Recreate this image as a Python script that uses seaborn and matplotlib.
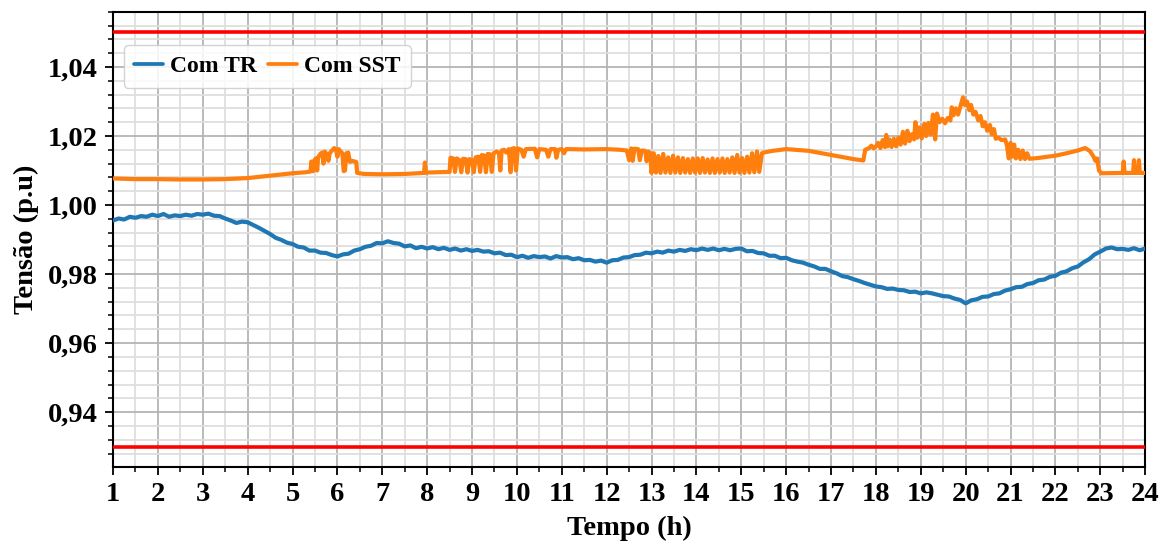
import numpy as np
import pandas as pd
import matplotlib
matplotlib.use("Agg")
import matplotlib.pyplot as plt
from matplotlib.ticker import MultipleLocator, FuncFormatter
import seaborn as sns

# Voltage profile with the conventional transformer (one value every 7.5 min)
tr_values = [
    0.9955, 0.9961, 0.9958, 0.9966, 0.9963, 0.9968, 0.9966, 0.9972,   # 1 h
    0.9968, 0.9974, 0.9966, 0.9970, 0.9968, 0.9972, 0.9969, 0.9974,   # 2 h
    0.9972, 0.9975, 0.9969, 0.9968, 0.9961, 0.9955, 0.9948, 0.9952,   # 3 h
    0.9950, 0.9942, 0.9934, 0.9925, 0.9916, 0.9905, 0.9899, 0.9891,   # 4 h
    0.9887, 0.9879, 0.9877, 0.9868, 0.9868, 0.9862, 0.9861, 0.9855,   # 5 h
    0.9851, 0.9857, 0.9859, 0.9868, 0.9872, 0.9879, 0.9882, 0.9890,   # 6 h
    0.9889, 0.9895, 0.9890, 0.9888, 0.9880, 0.9883, 0.9875, 0.9879,   # 7 h
    0.9874, 0.9878, 0.9872, 0.9876, 0.9870, 0.9874, 0.9868, 0.9872,   # 8 h
    0.9867, 0.9870, 0.9865, 0.9866, 0.9860, 0.9862, 0.9855, 0.9856,   # 9 h
    0.9849, 0.9853, 0.9847, 0.9852, 0.9849, 0.9851, 0.9845, 0.9852,   # 10 h
    0.9848, 0.9849, 0.9843, 0.9846, 0.9840, 0.9841, 0.9836, 0.9839,   # 11 h
    0.9833, 0.9840, 0.9841, 0.9848, 0.9849, 0.9855, 0.9856, 0.9862,   # 12 h
    0.9860, 0.9865, 0.9862, 0.9868, 0.9865, 0.9870, 0.9867, 0.9872,   # 13 h
    0.9869, 0.9874, 0.9870, 0.9874, 0.9869, 0.9873, 0.9869, 0.9873,   # 14 h
    0.9874, 0.9866, 0.9867, 0.9861, 0.9860, 0.9853, 0.9853, 0.9846,   # 15 h
    0.9847, 0.9840, 0.9836, 0.9833, 0.9827, 0.9822, 0.9815, 0.9815,   # 16 h
    0.9808, 0.9802, 0.9794, 0.9791, 0.9785, 0.9780, 0.9774, 0.9769,   # 17 h
    0.9764, 0.9762, 0.9757, 0.9758, 0.9754, 0.9753, 0.9748, 0.9749,   # 18 h
    0.9744, 0.9747, 0.9744, 0.9740, 0.9736, 0.9735, 0.9729, 0.9725,   # 19 h
    0.9715, 0.9724, 0.9727, 0.9734, 0.9735, 0.9742, 0.9744, 0.9752,   # 20 h
    0.9756, 0.9762, 0.9763, 0.9771, 0.9774, 0.9782, 0.9784, 0.9792,   # 21 h
    0.9795, 0.9804, 0.9808, 0.9817, 0.9822, 0.9834, 0.9843, 0.9857,   # 22 h
    0.9865, 0.9874, 0.9877, 0.9872, 0.9873, 0.9870, 0.9875, 0.9869,   # 23 h
    0.9874,                                                           # 24 h
]
tr_hours = 1 + 0.125 * np.arange(len(tr_values))

# Voltage profile with the solid-state transformer (tap switching episodes)
sst_hours = [
    1.00, 1.50, 2.00, 2.50, 3.00, 3.50, 4.00, 4.50, 5.00, 5.30,
    5.40, 5.42, 5.46, 5.48, 5.52, 5.55, 5.57, 5.62, 5.66, 5.69,
    5.72, 5.77, 5.80, 5.83, 5.88, 5.93, 5.97, 6.00, 6.03, 6.07,
    6.11, 6.14, 6.17, 6.20, 6.24, 6.28, 6.33, 6.38, 6.42, 6.44,
    6.60, 7.00, 7.50, 7.93, 7.95, 7.97, 8.50,
    8.52, 8.58, 8.62, 8.66, 8.72, 8.76, 8.80, 8.86, 8.90, 8.94,
    9.00, 9.04, 9.08, 9.14, 9.18, 9.22, 9.27, 9.31, 9.35, 9.40,
    9.44, 9.48, 9.55, 9.60, 9.63, 9.66, 9.72, 9.76, 9.82, 9.86,
    9.89, 9.94, 9.98, 10.02, 10.10, 10.15, 10.20, 10.40, 10.45, 10.50,
    10.65, 10.70, 10.75, 10.85, 10.88, 10.92, 11.00, 11.05, 11.10, 11.50,
    12.00, 12.30, 12.45, 12.50, 12.53,
    12.55, 12.58, 12.62, 12.70, 12.74, 12.78, 12.86, 12.89, 12.93, 12.97,
    13.00, 13.05, 13.10, 13.15, 13.20, 13.26, 13.31, 13.37, 13.42, 13.48,
    13.53, 13.59, 13.64, 13.70, 13.75, 13.81, 13.86, 13.92, 13.97, 14.03,
    14.08, 14.14, 14.19, 14.25, 14.30, 14.36, 14.41, 14.47, 14.52, 14.58,
    14.63, 14.69, 14.74, 14.80, 14.85, 14.91, 14.96, 15.02, 15.07, 15.13,
    15.18, 15.24, 15.29, 15.35, 15.40, 15.46, 15.50, 15.70, 16.00, 16.20,
    16.50, 16.75, 17.00, 17.25, 17.50, 17.72, 17.76,
    17.85, 17.90, 17.95, 18.00, 18.05, 18.10, 18.15, 18.20, 18.23, 18.26,
    18.30, 18.35, 18.40, 18.45, 18.50, 18.55, 18.60, 18.65, 18.70, 18.75,
    18.80, 18.85, 18.88, 18.92, 18.97, 19.02, 19.08, 19.12, 19.17, 19.22,
    19.27, 19.32, 19.36, 19.42, 19.48, 19.54, 19.60, 19.66, 19.69, 19.73,
    19.78, 19.83, 19.88, 19.94, 19.98, 20.03, 20.08, 20.12, 20.17, 20.22,
    20.28, 20.33, 20.38, 20.43, 20.48, 20.54, 20.58, 20.63, 20.67, 20.73,
    20.80, 20.88, 20.92, 20.96, 21.00, 21.04, 21.08, 21.12, 21.17, 21.22,
    21.27, 21.32, 21.37, 21.42, 21.60, 22.00, 22.25, 22.50, 22.66, 22.77,
    22.85, 22.89, 22.93, 22.97, 23.03, 23.50, 23.52, 23.54, 23.73, 23.75,
    23.77, 23.84, 23.86, 23.88, 24.00,
]
sst_values = [
    1.0077, 1.0075, 1.0075, 1.0074, 1.0074, 1.0075, 1.0078, 1.0085, 1.0092, 1.0095,
    1.0097, 1.0126, 1.0098, 1.0128, 1.0135, 1.0100, 1.0138, 1.0148, 1.0152, 1.0120,
    1.0155, 1.0145, 1.0128, 1.0150, 1.0158, 1.0165, 1.0160, 1.0140, 1.0162, 1.0155,
    1.0150, 1.0098, 1.0100, 1.0150, 1.0152, 1.0125, 1.0128, 1.0126, 1.0125, 1.0093,
    1.0090, 1.0089, 1.0090, 1.0093, 1.0123, 1.0094, 1.0096,
    1.0137, 1.0135, 1.0096, 1.0135, 1.0130, 1.0095, 1.0134, 1.0133, 1.0094, 1.0133,
    1.0130, 1.0095, 1.0138, 1.0140, 1.0096, 1.0145, 1.0143, 1.0095, 1.0148, 1.0147,
    1.0096, 1.0150, 1.0155, 1.0150, 1.0100, 1.0158, 1.0160, 1.0152, 1.0162, 1.0095,
    1.0163, 1.0165, 1.0100, 1.0164, 1.0160, 1.0140, 1.0162, 1.0163, 1.0138, 1.0162,
    1.0160, 1.0140, 1.0162, 1.0162, 1.0137, 1.0160, 1.0162, 1.0150, 1.0162, 1.0161,
    1.0162, 1.0160, 1.0158, 1.0130, 1.0155,
    1.0164, 1.0128, 1.0163, 1.0162, 1.0130, 1.0158, 1.0157, 1.0127, 1.0155, 1.0150,
    1.0093, 1.0150, 1.0094, 1.0142, 1.0093, 1.0148, 1.0094, 1.0138, 1.0093, 1.0143,
    1.0094, 1.0138, 1.0093, 1.0136, 1.0094, 1.0133, 1.0093, 1.0135, 1.0094, 1.0135,
    1.0093, 1.0136, 1.0094, 1.0132, 1.0093, 1.0135, 1.0093, 1.0133, 1.0094, 1.0135,
    1.0093, 1.0133, 1.0094, 1.0138, 1.0093, 1.0145, 1.0094, 1.0136, 1.0093, 1.0140,
    1.0094, 1.0150, 1.0095, 1.0155, 1.0096, 1.0150, 1.0152, 1.0157, 1.0162, 1.0160,
    1.0157, 1.0151, 1.0145, 1.0139, 1.0133, 1.0129, 1.0160,
    1.0165, 1.0172, 1.0164, 1.0170, 1.0180, 1.0165, 1.0188, 1.0168, 1.0203, 1.0170,
    1.0190, 1.0168, 1.0192, 1.0170, 1.0195, 1.0175, 1.0212, 1.0178, 1.0215, 1.0185,
    1.0205, 1.0190, 1.0240, 1.0195, 1.0225, 1.0193, 1.0235, 1.0200, 1.0238, 1.0205,
    1.0262, 1.0190, 1.0265, 1.0240, 1.0250, 1.0237, 1.0252, 1.0245, 1.0283, 1.0260,
    1.0280, 1.0262, 1.0285, 1.0312, 1.0290, 1.0300, 1.0275, 1.0290, 1.0262, 1.0270,
    1.0245, 1.0258, 1.0228, 1.0240, 1.0215, 1.0232, 1.0205, 1.0220, 1.0192, 1.0195,
    1.0188, 1.0190, 1.0172, 1.0135, 1.0180, 1.0140, 1.0175, 1.0135, 1.0160, 1.0133,
    1.0158, 1.0133, 1.0150, 1.0134, 1.0136, 1.0143, 1.0150, 1.0158, 1.0165, 1.0156,
    1.0140, 1.0128, 1.0135, 1.0100, 1.0092, 1.0093, 1.0126, 1.0093, 1.0093, 1.0130,
    1.0093, 1.0093, 1.0130, 1.0093, 1.0093,
]

# Voltage limits (p.u.)
limits = [1.05, 0.93]

series_labels = ["Com TR", "Com SST"]
series_colors = ["#1f77b4", "#ff7f0e"]

df = pd.concat([
    pd.DataFrame({"Tempo": tr_hours, "Tensao": tr_values, "Caso": series_labels[0]}),
    pd.DataFrame({"Tempo": sst_hours, "Tensao": sst_values, "Caso": series_labels[1]}),
], ignore_index=True)

sns.set_theme(style="whitegrid")
plt.rcParams["font.family"] = ["Liberation Serif", "DejaVu Serif"]
plt.rcParams["font.weight"] = "bold"
plt.rcParams["axes.labelweight"] = "bold"
plt.rcParams["text.color"] = "black"
plt.rcParams["axes.labelcolor"] = "black"
plt.rcParams["xtick.color"] = "black"
plt.rcParams["ytick.color"] = "black"

fig = plt.figure(figsize=(11.65, 5.45), dpi=100)
ax = fig.add_axes([0.097, 0.1431, 0.886, 0.8354])
ax.set_facecolor("white")

sns.lineplot(data=df, x="Tempo", y="Tensao", hue="Caso", hue_order=series_labels,
             palette=series_colors, estimator=None, sort=False, linewidth=3.0,
             ax=ax, zorder=3)

for lim in limits:
    ax.axhline(lim, color="red", linewidth=2.6, zorder=4)

ax.set_xlim(1, 24)
ax.set_ylim(0.9241, 1.056)
ax.xaxis.set_major_locator(MultipleLocator(1))
ax.xaxis.set_minor_locator(MultipleLocator(0.5))
ax.yaxis.set_major_locator(MultipleLocator(0.02))
ax.yaxis.set_minor_locator(MultipleLocator(0.004))
ax.yaxis.set_major_formatter(FuncFormatter(lambda v, _: f"{v:.2f}".replace(".", ",")))

ax.grid(True, which="major", color="#b4b4b4", linewidth=1.3, zorder=0)
ax.grid(True, which="minor", color="#dedede", linewidth=1.3, zorder=0)
ax.set_axisbelow(True)

for side in ["left", "right", "top", "bottom"]:
    ax.spines[side].set_color("black")
    ax.spines[side].set_linewidth(1.5)

ax.tick_params(which="major", direction="out", length=6, width=1.3, color="black",
               labelcolor="black", labelsize=20.5, bottom=True, left=True, pad=5)
ax.tick_params(which="minor", direction="out", length=3.6, width=1.1, color="black",
               bottom=True, left=True)
for lbl in ax.get_xticklabels() + ax.get_yticklabels():
    lbl.set_fontweight("bold")

ax.set_xlabel("Tempo (h)", fontsize=20.5, fontweight="bold", color="black", labelpad=6)
ax.set_ylabel("Tensão (p.u)", fontsize=20.5, fontweight="bold", color="black", labelpad=6)

leg = ax.legend(loc="upper left", bbox_to_anchor=(0.0, 0.95), ncol=2,
                prop={"family": "Liberation Serif", "weight": "bold", "size": 17},
                frameon=True, framealpha=0.85, edgecolor="#cccccc", fancybox=True,
                handlelength=1.2, handletextpad=0.3, columnspacing=0.5,
                borderpad=0.45, borderaxespad=0.45)
for line in leg.get_lines():
    line.set_linewidth(2.7)
for txt in leg.get_texts():
    txt.set_color("black")

fig.savefig("out.png", dpi=100)
